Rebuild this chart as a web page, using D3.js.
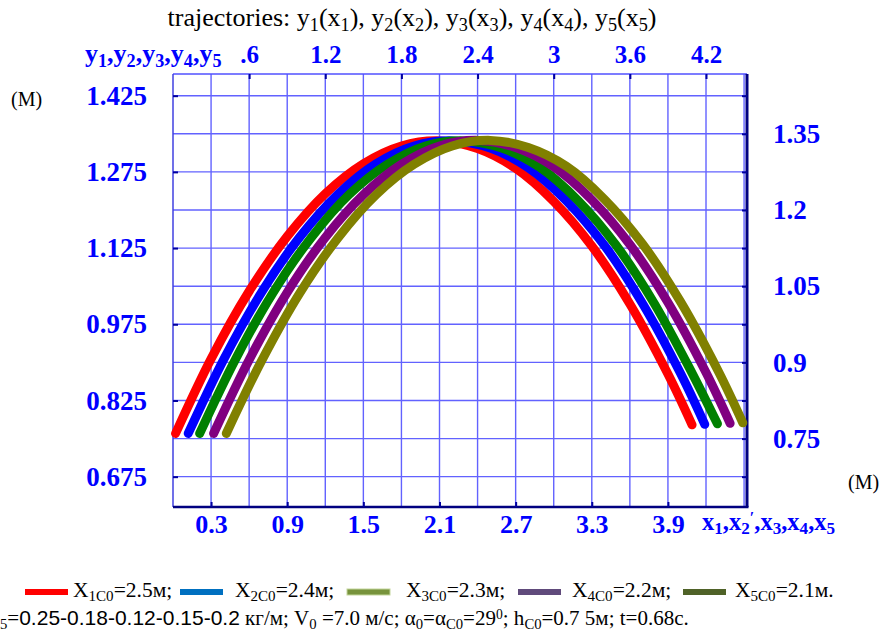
<!DOCTYPE html>
<html>
<head>
<meta charset="utf-8">
<script src="https://cdn.jsdelivr.net/npm/d3@7"></script>
<style>
  body { margin: 0; background: #fff; }
  svg { display: block; }
</style>
</head>
<body>
<svg id="chart"></svg>
<script>
// --- data ---
var topTicks = [0.6, 1.2, 1.8, 2.4, 3.0, 3.6, 4.2];
var topLabels = [".6", "1.2", "1.8", "2.4", "3", "3.6", "4.2"];
var bottomTicks = [0.3, 0.9, 1.5, 2.1, 2.7, 3.3, 3.9];
var bottomLabels = ["0.3", "0.9", "1.5", "2.1", "2.7", "3.3", "3.9"];
var leftTicks = [0.675, 0.825, 0.975, 1.125, 1.275, 1.425];
var leftLabels = ["0.675", "0.825", "0.975", "1.125", "1.275", "1.425"];
var rightTicks = [0.75, 0.9, 1.05, 1.2, 1.35];
var rightLabels = ["0.75", "0.9", "1.05", "1.2", "1.35"];
var xGrid = [0.3, 0.6, 0.9, 1.2, 1.5, 1.8, 2.1, 2.4, 2.7, 3.0, 3.3, 3.6, 3.9, 4.2, 4.5];
var yGrid = [0.675, 0.75, 0.825, 0.9, 0.975, 1.05, 1.125, 1.2, 1.275, 1.35, 1.425];

// траектории y_i(x_i)
var x1 = [0.02, 0.30, 0.60, 0.90, 1.20, 1.50, 1.80, 2.10, 2.40, 2.70, 3.00, 3.30, 3.60, 3.90, 4.09];
var y1 = [0.760, 0.907, 1.040, 1.148, 1.232, 1.291, 1.326, 1.336, 1.321, 1.282, 1.217, 1.129, 1.015, 0.877, 0.777];
var x2 = [0.12, 0.40, 0.70, 1.00, 1.30, 1.60, 1.90, 2.20, 2.50, 2.80, 3.10, 3.40, 3.70, 4.00, 4.19];
var y2 = [0.760, 0.906, 1.039, 1.147, 1.231, 1.291, 1.326, 1.336, 1.322, 1.283, 1.218, 1.130, 1.016, 0.878, 0.778];
var x3 = [0.21, 0.49, 0.79, 1.09, 1.39, 1.69, 1.99, 2.29, 2.59, 2.89, 3.19, 3.49, 3.79, 4.09, 4.29];
var y3 = [0.760, 0.905, 1.038, 1.146, 1.231, 1.290, 1.326, 1.336, 1.322, 1.284, 1.219, 1.131, 1.017, 0.879, 0.779];
var x4 = [0.32, 0.60, 0.90, 1.20, 1.50, 1.80, 2.10, 2.40, 2.70, 3.00, 3.30, 3.60, 3.90, 4.20, 4.39];
var y4 = [0.760, 0.905, 1.038, 1.146, 1.230, 1.290, 1.326, 1.337, 1.323, 1.285, 1.220, 1.132, 1.018, 0.880, 0.780];
var x5 = [0.42, 0.70, 1.00, 1.30, 1.60, 1.90, 2.20, 2.50, 2.80, 3.10, 3.40, 3.70, 4.00, 4.30, 4.49];
var y5 = [0.760, 0.904, 1.037, 1.145, 1.230, 1.290, 1.326, 1.337, 1.323, 1.286, 1.221, 1.133, 1.019, 0.881, 0.781];

var curveColors = ["#ff0000", "#0000ff", "#008000", "#800080", "#808000"];
var legendColors = ["#ff0000", "#0070c0", "#77933c", "#604a7b", "#4f6228"];
var legendX0 = ["2.5", "2.4", "2.3", "2.2", "2.1"];

// --- sizes ---
var width = 884, height = 634;
var plot = {left: 173, top: 74, right: 747, bottom: 507};
var blue = "#0000ff";
var serif = "'Liberation Serif', 'Times New Roman', serif";
var sans = "'Liberation Sans', Arial, sans-serif";

var svg = d3.select("#chart")
    .attr("width", width)
    .attr("height", height)
    .style("font-family", serif);

svg.append("rect").attr("width", width).attr("height", height).attr("fill", "#fff");

var x = d3.scaleLinear().domain([0, 4.523]).range([plot.left, plot.right]);
var y = d3.scaleLinear().domain([0.6153, 1.4677]).range([plot.bottom, plot.top]);

// текст с индексами: parts = [[text, "sub"|"sup"|null, font], ...]
function rich(sel, parts) {
    parts.forEach(function(p) {
        var t = sel.append("tspan").text(p[0]);
        if (p[1] === "sub") t.attr("baseline-shift", "-25%").attr("font-size", "70%");
        if (p[1] === "sup") t.attr("baseline-shift", "45%").attr("font-size", "65%");
        if (p[2]) t.attr("font-family", p[2]);
    });
    return sel;
}

// сетка
var grid = svg.append("g").attr("stroke", "#6262ff").attr("stroke-width", 1.4);
grid.selectAll("line.vx").data(xGrid).enter().append("line")
    .attr("x1", function(d) { return x(d); }).attr("x2", function(d) { return x(d); })
    .attr("y1", plot.top).attr("y2", plot.bottom);
grid.selectAll("line.hy").data(yGrid).enter().append("line")
    .attr("x1", plot.left).attr("x2", plot.right)
    .attr("y1", function(d) { return y(d); }).attr("y2", function(d) { return y(d); });

// рамка
svg.append("line").attr("x1", plot.left).attr("x2", plot.right).attr("y1", plot.top).attr("y2", plot.top)
    .attr("stroke", "#5050ff").attr("stroke-width", 1.5);
svg.append("line").attr("x1", plot.left).attr("x2", plot.left).attr("y1", plot.top).attr("y2", plot.bottom)
    .attr("stroke", "#4040e0").attr("stroke-width", 1.5);
svg.append("line").attr("x1", plot.left).attr("x2", plot.right + 1.5).attr("y1", plot.bottom).attr("y2", plot.bottom)
    .attr("stroke", "#000080").attr("stroke-width", 2.5);
svg.append("line").attr("x1", plot.right).attr("x2", plot.right).attr("y1", plot.top).attr("y2", plot.bottom)
    .attr("stroke", "#000080").attr("stroke-width", 3);

// оси
function styleAxis(g, size) {
    g.select(".domain").remove();
    g.selectAll(".tick line").attr("stroke", "#0000a0").attr("stroke-width", 2);
    g.selectAll(".tick text")
        .attr("fill", blue)
        .attr("font-family", serif)
        .attr("font-weight", "bold")
        .attr("font-size", size);
}

svg.append("g").attr("transform", "translate(0," + plot.top + ")")
    .call(d3.axisTop(x).tickValues(topTicks).tickSize(-5).tickPadding(11)
        .tickFormat(function(d, i) { return topLabels[i]; }))
    .call(styleAxis, 25);

svg.append("g").attr("transform", "translate(0," + plot.bottom + ")")
    .call(d3.axisBottom(x).tickValues(bottomTicks).tickSize(-5).tickPadding(8)
        .tickFormat(function(d, i) { return bottomLabels[i]; }))
    .call(styleAxis, 26);

svg.append("g").attr("transform", "translate(" + plot.left + ",0)")
    .call(d3.axisLeft(y).tickValues(leftTicks).tickSize(-5).tickPadding(26)
        .tickFormat(function(d, i) { return leftLabels[i]; }))
    .call(styleAxis, 27);

svg.append("g").attr("transform", "translate(" + plot.right + ",0)")
    .call(d3.axisRight(y).tickValues(yGrid).tickSize(-5).tickPadding(26)
        .tickFormat(function(d) {
            var i = rightTicks.indexOf(d);
            return i < 0 ? "" : rightLabels[i];
        }))
    .call(styleAxis, 27);

// траектории
var line = d3.line()
    .x(function(d) { return x(d[0]); })
    .y(function(d) { return y(d[1]); })
    .curve(d3.curveCatmullRom);

var series = [[x1, y1], [x2, y2], [x3, y3], [x4, y4], [x5, y5]];
series.forEach(function(s, i) {
    var pts = s[0].map(function(v, j) { return [v, s[1][j]]; });
    svg.append("path")
        .datum(pts)
        .attr("d", line)
        .attr("fill", "none")
        .attr("stroke", curveColors[i])
        .attr("stroke-width", 9)
        .attr("stroke-linecap", "round");
});

// заголовок
var titleParts = [["trajectories: ", null]];
[1, 2, 3, 4, 5].forEach(function(k, i) {
    titleParts.push(["y", null], [String(k), "sub"], ["(x", null], [String(k), "sub"], [i < 4 ? "), " : ")", null]);
});
rich(svg.append("text").attr("x", 412).attr("y", 26).attr("text-anchor", "middle")
    .attr("font-size", 26).attr("fill", "#000"), titleParts);

// названия осей
var yName = [];
[1, 2, 3, 4, 5].forEach(function(k, i) {
    yName.push(["y", null], [String(k), "sub"]);
    if (i < 4) yName.push([",", null]);
});
rich(svg.append("text").attr("x", 85).attr("y", 62)
    .attr("font-size", 26).attr("font-weight", "bold").attr("fill", blue), yName);

var xName = [];
[1, 2, 3, 4, 5].forEach(function(k, i) {
    xName.push(["x", null], [String(k), "sub"]);
    if (k === 2) xName.push(["′", "sup"]);
    if (i < 4) xName.push([",", null]);
});
rich(svg.append("text").attr("x", 702).attr("y", 530)
    .attr("font-size", 24.5).attr("font-weight", "bold").attr("fill", blue), xName);

svg.append("text").attr("x", 11).attr("y", 106).attr("font-size", 20).attr("fill", "#000").text("(M)");
svg.append("text").attr("x", 848).attr("y", 489).attr("font-size", 20).attr("fill", "#000").text("(M)");

// легенда
var swatchX = [25, 180, 347, 518, 683];
var labelX = [73, 235, 406, 572, 735];
var legend = svg.append("g");
legendColors.forEach(function(c, i) {
    legend.append("rect")
        .attr("x", swatchX[i]).attr("y", 589)
        .attr("width", 43).attr("height", 6)
        .attr("fill", c)
        .attr("stroke", i === 2 ? "#c3d69b" : "none").attr("stroke-width", 1);
    rich(legend.append("text").attr("x", labelX[i]).attr("y", 597)
        .attr("font-size", 21.5).attr("fill", "#000"),
        [["X", null], [(i + 1) + "C0", "sub"], ["=" + legendX0[i] + "м" + (i < 4 ? ";" : "."), null]]);
});

rich(svg.append("text").attr("x", 0).attr("y", 625).attr("font-size", 21).attr("fill", "#000"),
    [["5", "sub"], ["=", null], ["0.25-0.18-0.12-0.15-0.2", null, sans], [" кг/м; V", null], ["0", "sub"],
     [" =7.0 м/с; α", null], ["0", "sub"], ["=α", null], ["C0", "sub"], ["=29", null], ["0", "sup"],
     [";  h", null], ["C0", "sub"], ["=0.7 5м; t=0.68с.", null]]);
</script>
</body>
</html>
